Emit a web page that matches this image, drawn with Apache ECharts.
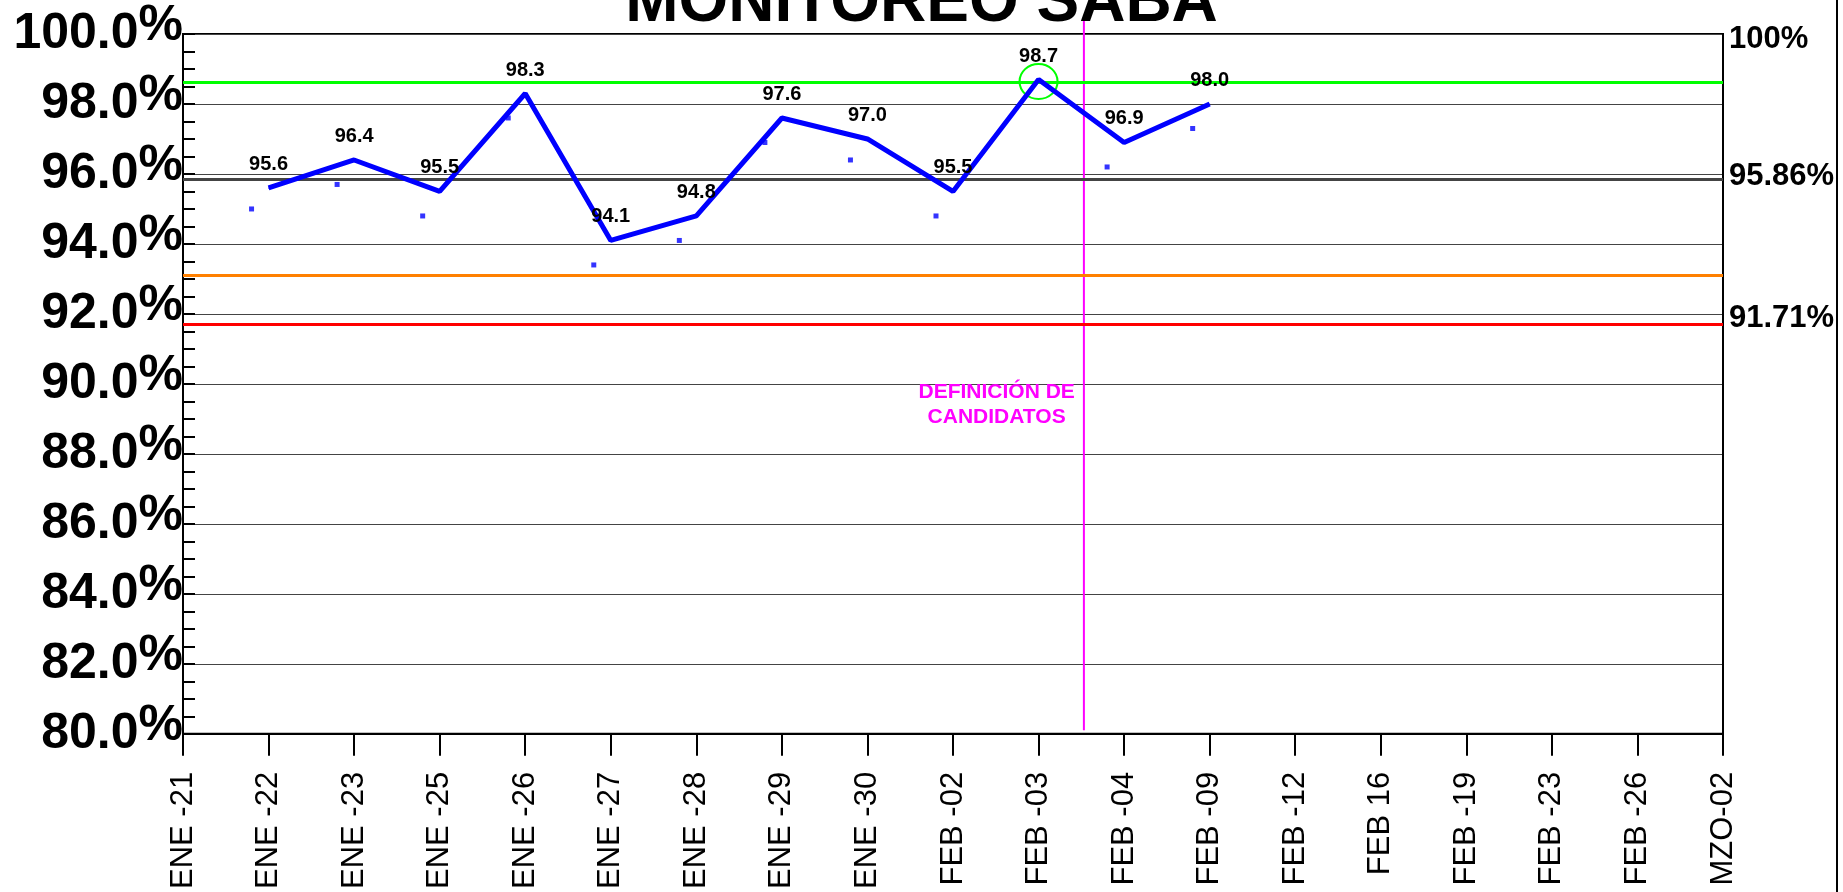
<!DOCTYPE html>
<html>
<head>
<meta charset="utf-8">
<script src="https://cdn.jsdelivr.net/npm/echarts@6/dist/echarts.min.js"></script>
<style>
  html, body { margin: 0; padding: 0; background: #fff; }
  #main { width: 1843px; height: 892px; }
</style>
</head>
<body>
<div id="main"></div>
<script>
// fechas del eje x
var categories = ['ENE -21', 'ENE -22', 'ENE -23', 'ENE -25', 'ENE -26', 'ENE -27', 'ENE -28',
  'ENE -29', 'ENE -30', 'FEB -02', 'FEB -03', 'FEB -04', 'FEB -09', 'FEB -12', 'FEB 16',
  'FEB -19', 'FEB -23', 'FEB -26', 'MZO-02']

// monitoreo (linea azul)
var saba = [null, 95.6, 96.4, 95.5, 98.3, 94.1, 94.8, 97.6, 97.0, 95.5, 98.7, 96.9, 98.0,
  null, null, null, null, null, null]

// puntos azules
var puntos = [null, 95.0, 95.7, 94.8, 97.6, 93.4, 94.1, 96.9, 96.4, 94.8, null, 96.2, 97.3,
  null, null, null, null, null, null]

// lineas de referencia
var meta = 98.63
var promedio = 95.86
var alerta = 93.1
var minimo = 91.71
var rightLabels = [100, 95.86, 91.71]

// corte "definicion de candidatos" (posicion en el eje de fechas)
var corte = 10.53
var corteTexto = 'DEFINICIÓN DE\nCANDIDATOS'

var chart = echarts.init(document.getElementById('main'))

var hline = function (v, color, w) {
    return { yAxis: v, lineStyle: { color: color, width: w, type: 'solid' } }
}

var rightFont = { fontFamily: 'Liberation Sans', fontSize: 31, fontWeight: 'bold', color: '#000' }

var option = {
    animation: false,
    title: {
        text: 'MONITOREO SABA',
        left: 'center',
        top: -34,
        textStyle: { fontFamily: 'Liberation Sans', fontSize: 64, fontWeight: 'bold', color: '#000' }
    },
    grid: {
        left: 183, right: 120, top: 34, bottom: 157,
        show: true, borderColor: '#000', borderWidth: 2
    },
    xAxis: [{
        type: 'category',
        data: categories,
        boundaryGap: false,
        axisLine: { lineStyle: { color: '#000', width: 2 } },
        axisTick: { length: 22, lineStyle: { color: '#000', width: 2 } },
        axisLabel: {
            rotate: 90, margin: 38, interval: 0,
            fontFamily: 'Liberation Sans', fontSize: 31, color: '#000'
        },
        splitLine: { show: false }
    }, {
        type: 'value', min: 0, max: categories.length - 1, show: false
    }],
    yAxis: [{
        type: 'value', min: 80, max: 100, interval: 2,
        axisLine: { show: true, lineStyle: { color: '#000', width: 2 } },
        axisTick: { show: true, inside: true, length: 12, lineStyle: { color: '#000', width: 2 } },
        minorTick: { show: true, splitNumber: 4, length: 12, lineStyle: { color: '#000', width: 2 } },
        splitLine: { lineStyle: { color: '#444', width: 1 } },
        axisLabel: {
            margin: 0,
            formatter: function (v) { return '{n|' + v.toFixed(1) + '}{p|%}' },
            rich: {
                n: { fontFamily: 'Liberation Sans', fontSize: 50, fontWeight: 'bold', color: '#000', lineHeight: 50 },
                p: { fontFamily: 'Liberation Sans', fontSize: 50, fontWeight: 'bold', color: '#000', lineHeight: 50, padding: [0, 0, 16, 0] }
            }
        }
    }, {
        type: 'value', min: 80, max: 100, position: 'right',
        axisLine: { show: true, lineStyle: { color: '#000', width: 2 } },
        axisTick: { show: false },
        splitLine: { show: false },
        axisLabel: {
            customValues: rightLabels,
            margin: 6,
            formatter: function (v) {
                if (v === 100) return '{a|' + v + '%}'
                if (v === minimo) return '{c|' + v + '%}'
                return '{b|' + v + '%}'
            },
            rich: {
                a: Object.assign({ padding: [10, 0, 0, 0] }, rightFont),
                b: Object.assign({ padding: [0, 0, 4, 0] }, rightFont),
                c: Object.assign({ padding: [0, 0, 12, 0] }, rightFont)
            }
        }
    }],
    graphic: [{
        type: 'line', shape: { x1: 1837, y1: 0, x2: 1837, y2: 892 },
        style: { stroke: '#000', lineWidth: 2 }
    }],
    series: [{
        type: 'line',
        data: saba,
        z: 5,
        symbol: 'circle',
        symbolSize: 1,
        lineStyle: { color: '#0000FF', width: 5 },
        itemStyle: { color: '#0000FF' },
        label: {
            show: true, position: 'top', distance: 13,
            fontFamily: 'Liberation Sans', fontSize: 20, fontWeight: 'bold', color: '#000',
            formatter: function (p) { return p.value.toFixed(1) }
        },
        markLine: {
            silent: true, symbol: 'none', label: { show: false },
            data: [
                hline(meta, '#00FF00', 3),
                hline(promedio, '#444', 3),
                hline(alerta, '#FF8000', 3),
                hline(minimo, '#FF0000', 3)
            ]
        },
        markPoint: {
            silent: true,
            data: [{ type: 'max' }],
            symbol: 'circle',
            symbolSize: [38, 35],
            symbolOffset: [0, 2],
            itemStyle: { color: 'rgba(0,0,0,0)', borderColor: '#00FF00', borderWidth: 2 },
            label: { show: false }
        }
    }, {
        type: 'scatter',
        data: puntos,
        z: 4,
        symbol: 'rect',
        symbolSize: 5,
        symbolOffset: [-17, 0],
        itemStyle: { color: '#0000FF' }
    }, {
        // linea vertical magenta
        type: 'line',
        xAxisIndex: 1,
        yAxisIndex: 0,
        clip: false,
        symbol: 'none',
        z: 3,
        data: [[corte, 80.1], [corte, 100.47]],
        lineStyle: { color: '#FF00FF', width: 2 },
        markPoint: {
            silent: true,
            symbolSize: 0,
            data: [{ coord: [9.51, 89.41] }],
            label: {
                show: true, position: 'inside',
                formatter: corteTexto,
                fontFamily: 'Liberation Sans', fontSize: 21, fontWeight: 'bold',
                color: '#FF00FF', lineHeight: 25, align: 'center'
            }
        }
    }]
}

chart.setOption(option)
</script>
</body>
</html>
